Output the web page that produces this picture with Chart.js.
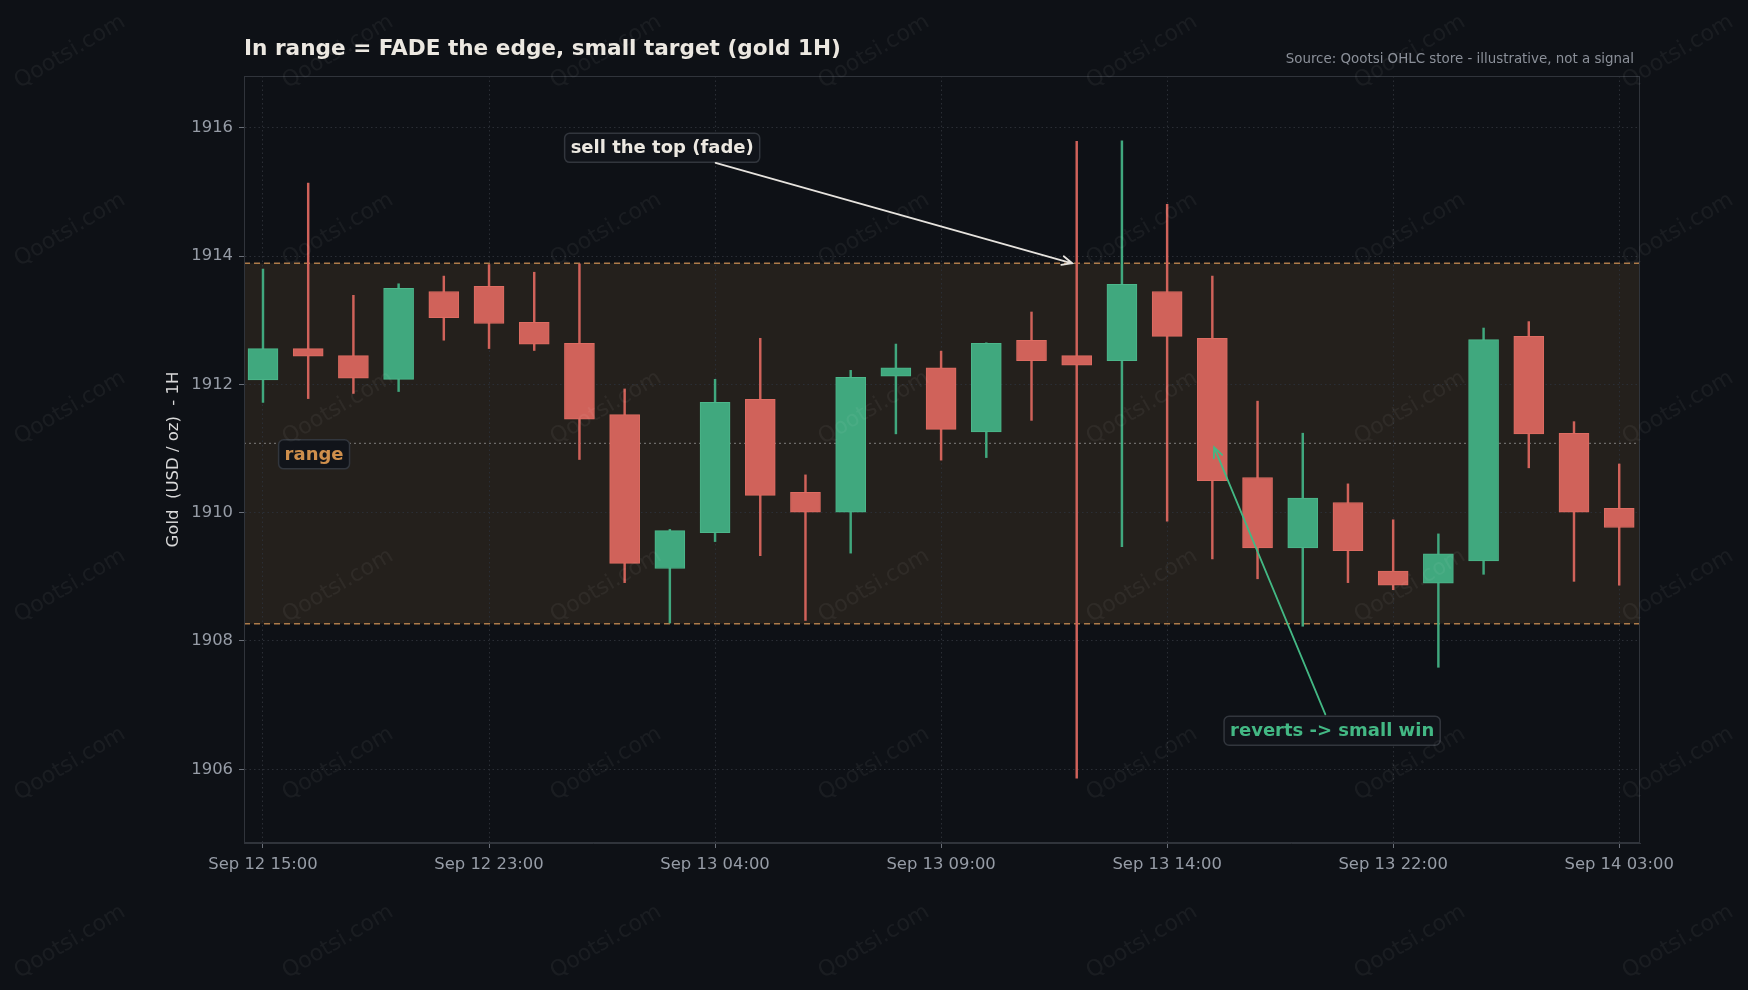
<!DOCTYPE html>
<html>
<head>
<meta charset="utf-8">
<title>In range = FADE the edge, small target (gold 1H)</title>
<script src="https://cdn.jsdelivr.net/npm/chart.js@4.4.1/dist/chart.umd.min.js"></script>
<style>
  html, body { margin: 0; padding: 0; background: #0e1116; }
  #wrap { position: relative; width: 1748px; height: 990px; }
</style>
</head>
<body>
<div id="wrap"><canvas id="gold_range"></canvas></div>
<script>
  // hourly candles, gold 1H
  var times = [
    "Sep 12 15:00", "Sep 12 16:00", "Sep 12 17:00", "Sep 12 18:00", "Sep 12 22:00",
    "Sep 12 23:00", "Sep 13 00:00", "Sep 13 01:00", "Sep 13 02:00", "Sep 13 03:00",
    "Sep 13 04:00", "Sep 13 05:00", "Sep 13 06:00", "Sep 13 07:00", "Sep 13 08:00",
    "Sep 13 09:00", "Sep 13 10:00", "Sep 13 11:00", "Sep 13 12:00", "Sep 13 13:00",
    "Sep 13 14:00", "Sep 13 15:00", "Sep 13 16:00", "Sep 13 17:00", "Sep 13 21:00",
    "Sep 13 22:00", "Sep 13 23:00", "Sep 14 00:00", "Sep 14 01:00", "Sep 14 02:00",
    "Sep 14 03:00"
  ];
  var opens  = [1912.07, 1912.56, 1912.45, 1912.08, 1913.45, 1913.53, 1912.97, 1912.64, 1911.53, 1909.13,
                1909.69, 1911.77, 1910.32, 1910.01, 1912.13, 1912.26, 1911.26, 1912.69, 1912.45, 1912.37,
                1913.45, 1912.72, 1910.55, 1909.45, 1910.16, 1909.09, 1908.90, 1909.25, 1912.75, 1911.24,
                1910.07];
  var highs  = [1913.80, 1915.14, 1913.39, 1913.57, 1913.69, 1913.87, 1913.75, 1913.88, 1911.93, 1909.74,
                1912.08, 1912.72, 1910.59, 1912.22, 1912.63, 1912.52, 1912.65, 1913.13, 1915.79, 1915.80,
                1914.81, 1913.69, 1911.74, 1911.24, 1910.45, 1909.89, 1909.67, 1912.88, 1912.98, 1911.42,
                1910.76];
  var lows   = [1911.72, 1911.78, 1911.86, 1911.89, 1912.69, 1912.56, 1912.53, 1910.83, 1908.91, 1908.28,
                1909.55, 1909.33, 1908.32, 1909.37, 1911.23, 1910.82, 1910.86, 1911.44, 1905.86, 1909.47,
                1909.87, 1909.28, 1908.97, 1908.23, 1908.91, 1908.80, 1907.59, 1909.04, 1910.70, 1908.93,
                1908.87];
  var closes = [1912.56, 1912.44, 1912.10, 1913.50, 1913.04, 1912.95, 1912.63, 1911.46, 1909.21, 1909.72,
                1911.72, 1910.27, 1910.01, 1912.11, 1912.26, 1911.30, 1912.64, 1912.37, 1912.30, 1913.56,
                1912.75, 1910.50, 1909.45, 1910.23, 1909.41, 1908.87, 1909.36, 1912.70, 1911.23, 1910.01,
                1909.77];

  // range box
  var rangeTop = 1913.89;
  var rangeBottom = 1908.27;
  var rangeMid = 1911.08;

  // annotations: [text, x index, price] and arrow targets
  var sellNote = ["sell the top (fade)", 8.83, 1915.69];
  var sellTarget = [17.9, 1913.89];
  var revertNote = ["reverts -> small win", 23.65, 1906.6];
  var revertTarget = [21.04, 1911.02];
  var rangeNote = ["range", 1.13, 1910.91];

  var up = '#40a87e', down = '#d0625a';
  var upEdge = '#4cb78b', downEdge = '#de6c62';
  var fontFamily = '"DejaVu Sans", "Liberation Sans", sans-serif';

  var candleColors = opens.map(function(o, i) { return closes[i] >= o ? up : down; });
  var edgeColors = opens.map(function(o, i) { return closes[i] >= o ? upEdge : downEdge; });

  function drawArrow(ctx, x1, y1, x2, y2, color) {
    var ang = Math.atan2(y2 - y1, x2 - x1);
    var head = 11, spread = 0.42;
    ctx.save();
    ctx.strokeStyle = color;
    ctx.lineWidth = 1.8;
    ctx.lineCap = 'round';
    ctx.beginPath();
    ctx.moveTo(x1, y1);
    ctx.lineTo(x2, y2);
    ctx.moveTo(x2 - head * Math.cos(ang - spread), y2 - head * Math.sin(ang - spread));
    ctx.lineTo(x2, y2);
    ctx.lineTo(x2 - head * Math.cos(ang + spread), y2 - head * Math.sin(ang + spread));
    ctx.stroke();
    ctx.restore();
  }

  function drawNote(ctx, text, cx, cy, color) {
    ctx.save();
    ctx.font = 'bold 18px ' + fontFamily;
    var w = ctx.measureText(text).width + 12;
    var h = 29;
    var x = cx - w / 2, y = cy - h / 2;
    ctx.beginPath();
    ctx.roundRect(x, y, w, h, 5);
    ctx.fillStyle = '#11141a';
    ctx.fill();
    ctx.lineWidth = 1.5;
    ctx.strokeStyle = '#32363d';
    ctx.stroke();
    ctx.fillStyle = color;
    ctx.textAlign = 'center';
    ctx.textBaseline = 'middle';
    ctx.fillText(text, cx, cy + 1);
    ctx.restore();
    return { cx: cx, cy: cy, hw: w / 2, hh: h / 2 };
  }

  function edgePoint(box, tx, ty) {
    var dx = tx - box.cx, dy = ty - box.cy;
    var s = Math.min(box.hw / Math.abs(dx || 1e-6), box.hh / Math.abs(dy || 1e-6));
    var len = Math.sqrt(dx * dx + dy * dy);
    return [box.cx + dx * s + dx / len * 2, box.cy + dy * s + dy / len * 2];
  }

  var decor = {
    id: 'decor',
    beforeDraw: function(chart) {
      var ctx = chart.ctx, area = chart.chartArea, y = chart.scales.y;
      ctx.save();
      ctx.fillStyle = '#0e1116';
      ctx.fillRect(0, 0, chart.width, chart.height);
      var top = y.getPixelForValue(rangeTop), bottom = y.getPixelForValue(rangeBottom);
      ctx.fillStyle = '#24201c';
      ctx.fillRect(area.left, top, area.right - area.left, bottom - top);
      ctx.restore();
    },
    beforeDatasetsDraw: function(chart) {
      var ctx = chart.ctx, area = chart.chartArea, y = chart.scales.y;
      ctx.save();
      ctx.lineWidth = 1.5;
      ctx.strokeStyle = '#ad7b49';
      ctx.setLineDash([6, 4]);
      [rangeTop, rangeBottom].forEach(function(v) {
        var py = y.getPixelForValue(v);
        ctx.beginPath();
        ctx.moveTo(area.left, py);
        ctx.lineTo(area.right, py);
        ctx.stroke();
      });
      ctx.strokeStyle = '#6c6a68';
      ctx.lineWidth = 1.3;
      ctx.setLineDash([2, 3]);
      var my = y.getPixelForValue(rangeMid);
      ctx.beginPath();
      ctx.moveTo(area.left, my);
      ctx.lineTo(area.right, my);
      ctx.stroke();
      ctx.restore();
    },
    afterDraw: function(chart) {
      var ctx = chart.ctx, area = chart.chartArea, xs = chart.scales.x, ys = chart.scales.y;
      ctx.save();
      // frame
      ctx.strokeStyle = '#30343b';
      ctx.lineWidth = 1;
      ctx.strokeRect(area.left + 0.5, area.top + 0.5, area.right - area.left - 1, area.bottom - area.top - 1);

      // title + source line
      ctx.fillStyle = '#ece8e1';
      ctx.font = 'bold 21.6px ' + fontFamily;
      ctx.textBaseline = 'middle';
      ctx.textAlign = 'left';
      ctx.fillText('In range = FADE the edge, small target (gold 1H)', area.left, 49);
      ctx.fillStyle = '#8b9099';
      ctx.font = '13.4px ' + fontFamily;
      ctx.textAlign = 'right';
      ctx.fillText('Source: Qootsi OHLC store - illustrative, not a signal', area.right - 6, 60);
      ctx.restore();

      // notes and arrows
      var sb = drawNote(ctx, sellNote[0], xs.getPixelForValue(sellNote[1]), ys.getPixelForValue(sellNote[2]), '#ece8e1');
      var tx = xs.getPixelForValue(sellTarget[0]), ty = ys.getPixelForValue(sellTarget[1]);
      var p = edgePoint(sb, tx, ty);
      drawArrow(ctx, p[0], p[1], tx, ty, '#e6e3de');

      var rb = drawNote(ctx, revertNote[0], xs.getPixelForValue(revertNote[1]), ys.getPixelForValue(revertNote[2]), '#43b884');
      tx = xs.getPixelForValue(revertTarget[0]); ty = ys.getPixelForValue(revertTarget[1]);
      p = edgePoint(rb, tx, ty);
      drawArrow(ctx, p[0], p[1], tx, ty, '#43b884');

      drawNote(ctx, rangeNote[0], xs.getPixelForValue(rangeNote[1]), ys.getPixelForValue(rangeNote[2]), '#cf8f4c');

      // watermark tiles
      ctx.save();
      ctx.font = '22px ' + fontFamily;
      ctx.fillStyle = 'rgba(255,255,255,0.05)';
      ctx.textAlign = 'center';
      ctx.textBaseline = 'middle';
      for (var r = 0; r < 6; r++) {
        for (var c = 0; c < 7; c++) {
          ctx.save();
          ctx.translate(70 + c * 268, 52 + r * 178);
          ctx.rotate(-0.53);
          ctx.fillText('Qootsi.com', 0, 0);
          ctx.restore();
        }
      }
      ctx.restore();
    }
  };

  var tickFont = { family: fontFamily, size: 16.4 };
  var goldChart = new Chart(document.getElementById('gold_range'), {
    type: 'bar',
    data: {
      datasets: [{
        label: 'body',
        data: opens.map(function(o, i) {
          return { x: i, y: [Math.min(o, closes[i]), Math.max(o, closes[i])] };
        }),
        backgroundColor: candleColors,
        borderColor: edgeColors,
        borderWidth: 1,
        borderSkipped: false,
        barThickness: 30,
        grouped: false,
        order: 0
      }, {
        label: 'wick',
        data: lows.map(function(l, i) {
          return { x: i, y: [l, highs[i]] };
        }),
        backgroundColor: candleColors,
        borderWidth: 0,
        barThickness: 1.8,
        grouped: false,
        order: 1
      }]
    },
    options: {
      responsive: true,
      maintainAspectRatio: false,
      animation: false,
      events: [],
      layout: { padding: { left: 160, right: 108, top: 76, bottom: 0 } },
      plugins: {
        legend: { display: false },
        tooltip: { enabled: false }
      },
      scales: {
        x: {
          type: 'linear',
          min: -0.42,
          max: 30.46,
          offset: false,
          afterFit: function(scale) { scale.height = 147; },
          grid: {
            offset: false,
            color: '#2a2e35',
            tickLength: 5,
            tickColor: '#6a6f78'
          },
          border: { color: '#30343b', dash: [1.5, 3] },
          ticks: {
            stepSize: 5,
            includeBounds: false,
            autoSkip: false,
            maxRotation: 0,
            padding: 7,
            color: '#969ca6',
            font: tickFont,
            callback: function(v) { return times[v] || ''; }
          }
        },
        y: {
          min: 1904.85,
          max: 1916.81,
          afterFit: function(scale) { scale.width = 84; },
          grid: {
            color: '#2a2e35',
            tickLength: 5,
            tickColor: '#6a6f78'
          },
          border: { color: '#30343b', dash: [1.5, 3] },
          ticks: {
            stepSize: 2,
            includeBounds: false,
            padding: 6,
            color: '#969ca6',
            font: tickFont,
            callback: function(v) { return v.toFixed(0); }
          },
          title: {
            display: true,
            text: 'Gold  (USD / oz)  - 1H',
            color: '#d9d9d9',
            font: { family: fontFamily, size: 16.5 },
            padding: { top: 4, bottom: 4 }
          }
        }
      }
    },
    plugins: [decor]
  });
</script>
</body>
</html>
